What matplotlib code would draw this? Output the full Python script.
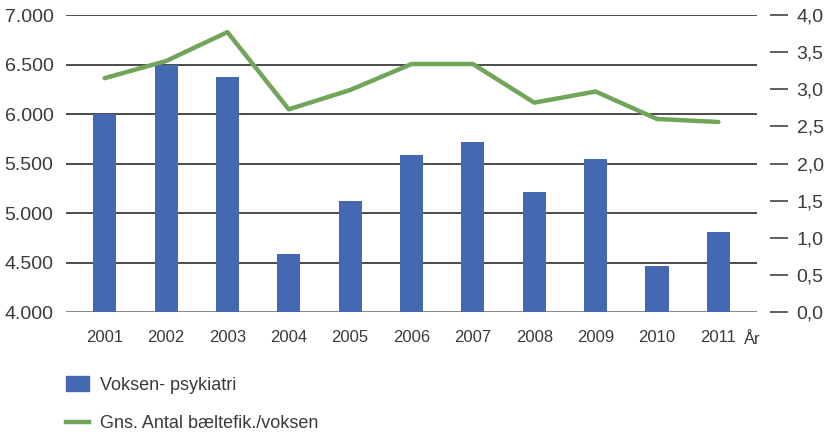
import numpy as np
import matplotlib.pyplot as plt
from matplotlib.lines import Line2D
from matplotlib.patches import Patch

# data
years = ['2001', '2002', '2003', '2004', '2005', '2006', '2007', '2008', '2009', '2010', '2011']
voksen = [6000, 6500, 6375, 4585, 5120, 5590, 5720, 5210, 5550, 4470, 4810]
gns = [3.15, 3.38, 3.77, 2.73, 2.99, 3.34, 3.34, 2.82, 2.97, 2.60, 2.56]
left_ticks = [4000, 4500, 5000, 5500, 6000, 6500, 7000]
left_labels = ['4.000', '4.500', '5.000', '5.500', '6.000', '6.500', '7.000']
right_ticks = [0, 0.5, 1, 1.5, 2, 2.5, 3, 3.5, 4]
right_labels = ['0,0', '0,5', '1,0', '1,5', '2,0', '2,5', '3,0', '3,5', '4,0']

plt.rcParams['font.family'] = ['Liberation Sans', 'DejaVu Sans']
blue = '#4469b1'
green = '#70a55a'
txt = '#3a3a3a'

fig = plt.figure(figsize=(8.26, 4.34), dpi=100)
ax = fig.add_axes([0.0799, 0.281, 0.8366, 0.6844])
x = np.arange(len(years))

ax.bar(x, voksen, width=0.375, color=blue, zorder=3)
ax.set_ylim(4000, 7000)
ax.set_xlim(-0.63, 10.63)
ax.set_yticks(left_ticks)
ax.set_yticklabels(left_labels)
ax.set_xticks(x)
ax.set_xticklabels(years)
ax.tick_params(axis='y', length=0, pad=9, labelsize=14, colors=txt)
ax.tick_params(axis='x', length=0, pad=13, labelsize=12, colors=txt)
for v in left_ticks:
    ax.axhline(v, color='#1a1a1a' if v != 4000 else '#666666', lw=1.1, zorder=1)
for s in ax.spines.values():
    s.set_visible(False)
ax.text(10.41, 3725, 'År', ha='left', va='center', fontsize=12, color=txt)

# right axis, line
ax2 = ax.twinx()
ax2.plot(x, gns, color=green, lw=3.2, solid_capstyle='round', zorder=4)
ax2.set_ylim(0, 4)
ax2.set_yticks(right_ticks)
ax2.set_yticklabels(right_labels)
for s in ax2.spines.values():
    s.set_visible(False)
ax2.spines['right'].set_position(('outward', 9.5))
ax2.tick_params(axis='y', direction='out', length=13, width=1.2, color='#444444',
                pad=6, labelsize=14, colors=txt)

handles = [Patch(color=blue), Line2D([0], [0], color=green, lw=3.2)]
fig.legend(handles, ['Voksen- psykiatri', 'Gns. Antal bæltefik./voksen'],
           loc='upper left', bbox_to_anchor=(0.0799, 0.133), frameon=False,
           borderpad=0, borderaxespad=0,
           fontsize=13, labelcolor=txt, handlelength=1.28, handleheight=0.89,
           handletextpad=0.6, labelspacing=1.15)

fig.savefig('out.png', dpi=100)
